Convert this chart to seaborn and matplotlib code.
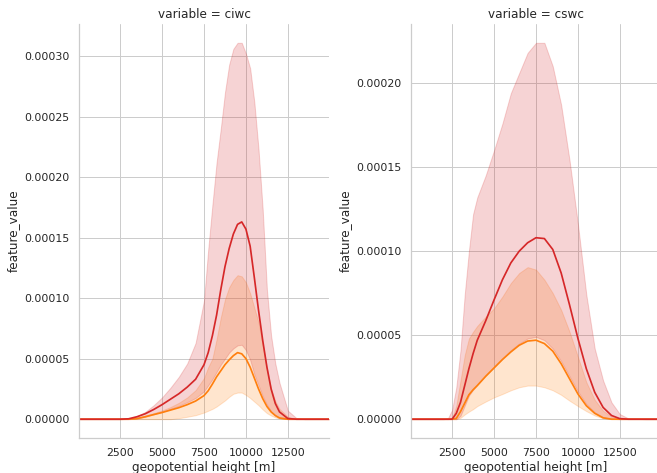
import numpy as np
import pandas as pd
import matplotlib
matplotlib.use('Agg')
import matplotlib.pyplot as plt
import seaborn as sns

# all values in units of 1e-5
SCALE = 1e-5
groups = ['set 1', 'set 2']
palette = {'set 1': '#ff7f0e', 'set 2': '#d62728'}

# ciwc panel
ciwc_height = [50, 1000, 2000, 2500, 3000, 3500, 4000, 4500, 5000, 5500, 6000, 6500,
               7000, 7500, 7750, 8000, 8250, 8500, 8750, 9000, 9250, 9500, 9750, 10000,
               10250, 10500, 10750, 11000, 11250, 11500, 11750, 12000, 12500, 13000,
               13500, 14000, 14950]
ciwc_red_mean = [0, 0, 0, 0, 0.03, 0.2, 0.45, 0.8, 1.2, 1.65, 2.1, 2.65,
                 3.3, 4.5, 5.5, 6.9, 8.6, 10.7, 12.6, 14.1, 15.3, 16.1, 16.3, 15.7,
                 14.3, 11.7, 9.0, 6.5, 4.3, 2.5, 1.3, 0.6, 0.05, 0,
                 0, 0, 0]
ciwc_red_lo = [0, 0, 0, 0, 0, 0.05, 0.2, 0.4, 0.6, 0.85, 1.1, 1.4,
               1.75, 2.3, 2.8, 3.3, 3.9, 4.5, 5.0, 5.5, 5.85, 6.1, 6.15, 5.7,
               4.9, 3.7, 2.8, 1.9, 1.2, 0.65, 0.3, 0.1, 0, 0,
               0, 0, 0]
ciwc_red_hi = [0, 0, 0, 0, 0.03, 0.25, 0.6, 1.15, 1.8, 2.6, 3.5, 4.6,
               6.3, 9.8, 14.0, 17.7, 21.2, 24.0, 27.0, 29.3, 30.6, 31.1, 31.1, 30.2,
               29.0, 26.2, 22.3, 17.3, 10.7, 6.9, 4.6, 3.0, 0.7, 0.1,
               0, 0, 0]
ciwc_orange_mean = [0, 0, 0, 0, 0, 0.05, 0.2, 0.38, 0.55, 0.75, 0.95, 1.2,
                    1.5, 1.95, 2.35, 2.9, 3.5, 4.0, 4.5, 4.9, 5.25, 5.5, 5.4, 5.0,
                    4.3, 3.4, 2.5, 1.7, 1.05, 0.6, 0.3, 0.1, 0, 0,
                    0, 0, 0]
ciwc_orange_lo = [0, 0, 0, 0, 0, 0, 0, 0, 0, 0, 0.08, 0.2,
                  0.33, 0.55, 0.7, 0.85, 1.05, 1.3, 1.55, 1.85, 2.1, 2.2, 2.2, 2.0,
                  1.75, 1.45, 1.15, 0.8, 0.5, 0.3, 0.15, 0.05, 0, 0,
                  0, 0, 0]
ciwc_orange_hi = [0, 0, 0, 0, 0.02, 0.12, 0.3, 0.5, 0.72, 1.0, 1.35, 1.8,
                  2.4, 3.4, 4.3, 5.0, 6.6, 8.4, 9.9, 10.9, 11.5, 11.9, 11.8, 11.3,
                  10.4, 9.2, 8.0, 6.1, 4.2, 2.5, 1.5, 0.85, 0.2, 0,
                  0, 0, 0]

# cswc panel
cswc_height = [50, 1000, 2000, 2250, 2500, 2750, 3000, 3250, 3500, 3750, 4000, 4500,
               5000, 5500, 6000, 6500, 7000, 7500, 8000, 8500, 9000, 9500, 10000,
               10500, 11000, 11500, 12000, 12500, 13000, 14000, 14950]
cswc_red_mean = [0, 0, 0, 0, 0, 0.35, 1.0, 2.0, 3.0, 3.9, 4.7, 5.85,
                 7.1, 8.3, 9.3, 10.0, 10.5, 10.8, 10.75, 10.1, 8.7, 6.8, 4.8,
                 3.0, 1.6, 0.7, 0.22, 0.03, 0, 0, 0]
cswc_red_lo = [0, 0, 0, 0, 0, 0, 0.2, 0.8, 1.4, 1.75, 2.05, 2.6,
               3.1, 3.6, 4.1, 4.5, 4.8, 4.9, 4.7, 4.2, 3.45, 2.55, 1.65,
               0.9, 0.4, 0.12, 0.02, 0, 0, 0, 0]
cswc_red_hi = [0, 0, 0, 0.05, 0.55, 1.9, 4.1, 7.4, 10.0, 12.2, 13.2, 14.5,
               16.0, 17.6, 19.4, 20.6, 21.8, 22.4, 22.4, 21.0, 18.7, 15.4, 11.6,
               7.4, 4.2, 2.3, 1.0, 0.3, 0.05, 0, 0]
cswc_orange_mean = [0, 0, 0, 0, 0, 0.05, 0.45, 0.95, 1.45, 1.75, 2.0, 2.55,
                    3.05, 3.55, 4.0, 4.4, 4.65, 4.7, 4.5, 4.05, 3.3, 2.4, 1.5,
                    0.8, 0.35, 0.08, 0, 0, 0, 0, 0]
cswc_orange_lo = [0, 0, 0, 0, 0, 0, 0.08, 0.28, 0.45, 0.6, 0.78, 1.05,
                  1.3, 1.5, 1.72, 1.9, 2.0, 2.0, 1.9, 1.72, 1.45, 1.1, 0.78,
                  0.48, 0.22, 0.05, 0, 0, 0, 0, 0]
cswc_orange_hi = [0, 0, 0, 0, 0.05, 0.8, 2.3, 3.8, 4.8, 5.2, 5.55, 6.1,
                  6.6, 7.3, 8.1, 8.7, 9.05, 8.9, 8.3, 7.5, 6.5, 5.2, 3.7,
                  2.2, 1.15, 0.5, 0.15, 0, 0, 0, 0]


def long_frame(var, height, series):
    parts = []
    for grp, (mean, lo, hi) in series.items():
        parts.append(pd.DataFrame({
            'height': height, 'variable': var, 'group': grp,
            'feature_value': np.array(mean) * SCALE,
            'lo': np.array(lo) * SCALE,
            'hi': np.array(hi) * SCALE}))
    return pd.concat(parts)


df = pd.concat([
    long_frame('ciwc', ciwc_height, {
        'set 1': (ciwc_orange_mean, ciwc_orange_lo, ciwc_orange_hi),
        'set 2': (ciwc_red_mean, ciwc_red_lo, ciwc_red_hi)}),
    long_frame('cswc', cswc_height, {
        'set 1': (cswc_orange_mean, cswc_orange_lo, cswc_orange_hi),
        'set 2': (cswc_red_mean, cswc_red_lo, cswc_red_hi)}),
], ignore_index=True)

sns.set_theme(style='whitegrid', rc={'lines.linewidth': 1.7})

g = sns.relplot(data=df, x='height', y='feature_value', hue='group', col='variable',
                kind='line', hue_order=groups, palette=palette, legend=False,
                facet_kws={'sharey': False}, height=6, aspect=0.6)

for ax, var in zip(g.axes.flat, ['ciwc', 'cswc']):
    for grp in groups:
        sub = df[(df['variable'] == var) & (df['group'] == grp)]
        ax.fill_between(sub['height'], sub['lo'], sub['hi'], color=palette[grp], alpha=0.2)
    ax.set_ylabel('feature_value')
    ax.set_xlabel('geopotential height [m]')

g.set(xlim=(50, 14950))

g.figure.set_size_inches(657 / 72, 473 / 72)
g.figure.subplots_adjust(left=79 / 657, right=661 / 657, bottom=1 - 438 / 473,
                         top=1 - 24 / 473, wspace=82 / 250)
g.figure.savefig('out.png', dpi=72)
